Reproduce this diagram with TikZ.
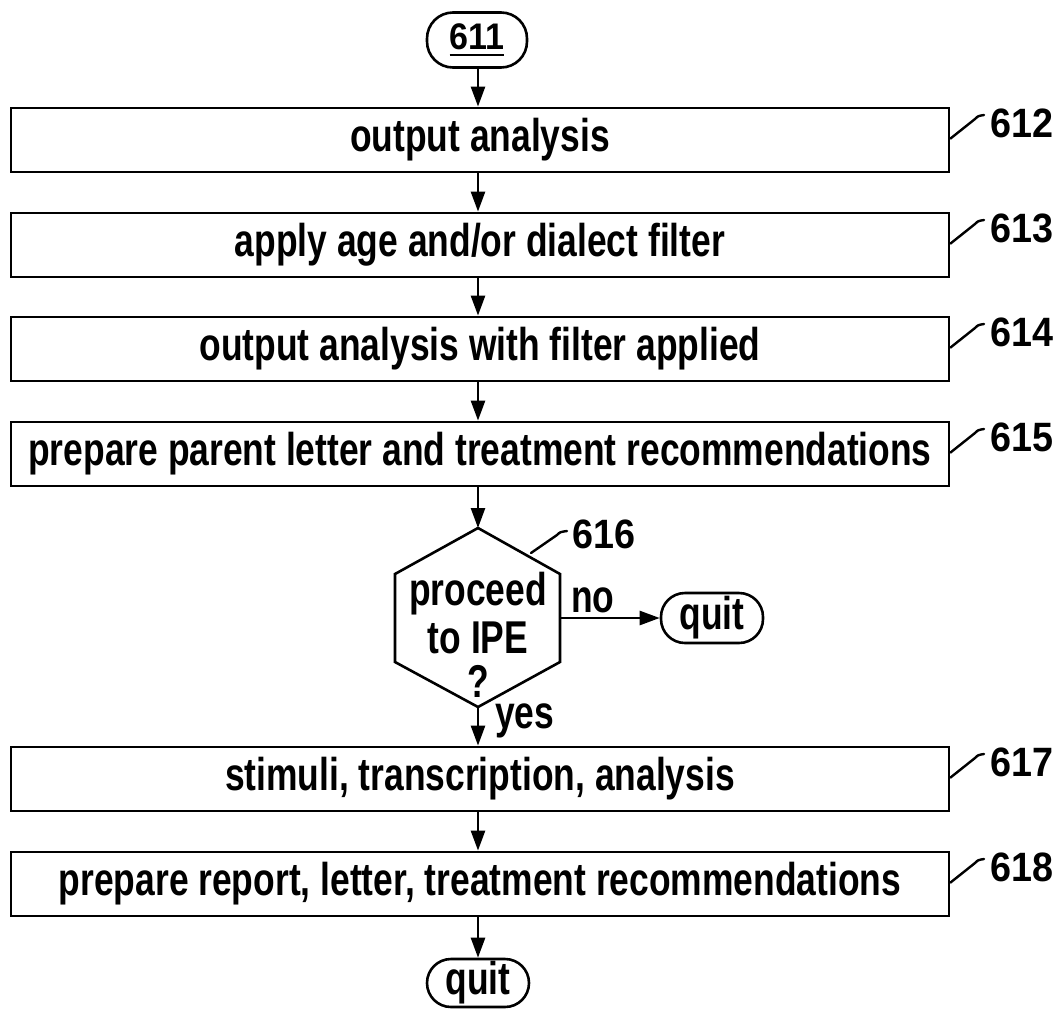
\documentclass[tikz,border=0pt]{standalone}
\usepackage{fontspec}
\setmainfont{Liberation Sans}
\newfontfamily\condfont{Liberation Sans}[FakeStretch=0.77]
\newfontfamily\numfont{Liberation Sans}[FakeStretch=0.92]
\usetikzlibrary{arrows.meta}
\begin{document}
\begin{tikzpicture}[x=1pt,y=-1pt,
  every node/.style={inner sep=0pt},
  txt/.style={font=\condfont\bfseries\fontsize{46}{50}\selectfont},
  box/.style={draw, line width=2.8pt, minimum width=938pt, minimum height=64pt, txt},
  term/.style={draw, line width=2.6pt, rounded corners=24pt, minimum width=102pt, minimum height=50pt, txt},
  arr/.style={line width=2.6pt, -{Triangle[length=20pt,width=14pt]}},
  lead/.style={line width=2.4pt, line join=round, line cap=round},
  num/.style={font=\numfont\bfseries\fontsize{41}{44}\selectfont, anchor=west}
]
\useasboundingbox (0,0) rectangle (1062,1009);

% start terminal
\node[term, minimum width=100pt, minimum height=55pt, rounded corners=26pt,
      font=\numfont\bfseries\fontsize{37}{40}\selectfont] (t611) at (477,40)
      {\setbox0\hbox{611}\rlap{\rule[-6pt]{\wd0}{2.4pt}}\box0};

% boxes
\node[box] (b612) at (480,140) {output analysis};
\node[box] (b613) at (480,245) {apply age and/or dialect filter};
\node[box] (b614) at (480,349) {output analysis with filter applied};
\node[box] (b615) at (480,454) {prepare parent letter and treatment recommendations};
\node[box] (b617) at (480,779) {stimuli, transcription, analysis};
\node[box] (b618) at (480,884) {prepare report, letter, treatment recommendations};

% decision hexagon
\coordinate (htop) at (478,528);
\coordinate (hur) at (560,574);
\coordinate (hlr) at (560,662);
\coordinate (hbot) at (478,707);
\coordinate (hll) at (395,662);
\coordinate (hul) at (395,574);
\coordinate (hright) at (560,618);
\draw[line width=2.6pt, line join=miter] (htop) -- (hur) -- (hlr) -- (hbot) -- (hll) -- (hul) -- cycle;
\node[txt, anchor=base] (d1) at (478,605) {proceed};
\node[txt, anchor=base] (d2) at (478,653) {to IPE};
\node[txt, anchor=base] (d3) at (478,697) {?};

% quit terminals
\node[term] (qmid) at (712,618) {quit};
\node[term, minimum height=48pt] (qend) at (478,983) {quit};

% connectors
\draw[arr] (t611.south -| htop) -- (b612.north -| htop);
\draw[arr] (b612.south -| htop) -- (b613.north -| htop);
\draw[arr] (b613.south -| htop) -- (b614.north -| htop);
\draw[arr] (b614.south -| htop) -- (b615.north -| htop);
\draw[arr] (b615.south -| htop) -- (htop);
\draw[arr] (hright) -- (qmid.west);
\draw[arr] (hbot) -- (b617.north -| hbot);
\draw[arr] (b617.south -| htop) -- (b618.north -| htop);
\draw[arr] (b618.south -| htop) -- (qend.north);

\node[txt, anchor=base west] (lno) at (571,612) {no};
\node[txt, anchor=base west] (lyes) at (495,728) {yes};

% reference numerals
\coordinate (c616a) at (531,553);
\node[num] (n616) at (572,534) {616};
\draw[lead] (c616a) -- (557,535) .. controls (560,532) .. (567,531);

\foreach \nm/\tp in {612/108, 613/213, 614/317, 615/422, 617/747, 618/852}{
  \node[num] (n\nm) at (990,\tp+15) {\nm};
  \draw[lead] (b\nm.north east) ++(0,32) -- (975,\tp+11) .. controls (978,\tp+8) .. (984,\tp+7);
}
\end{tikzpicture}
\end{document}
